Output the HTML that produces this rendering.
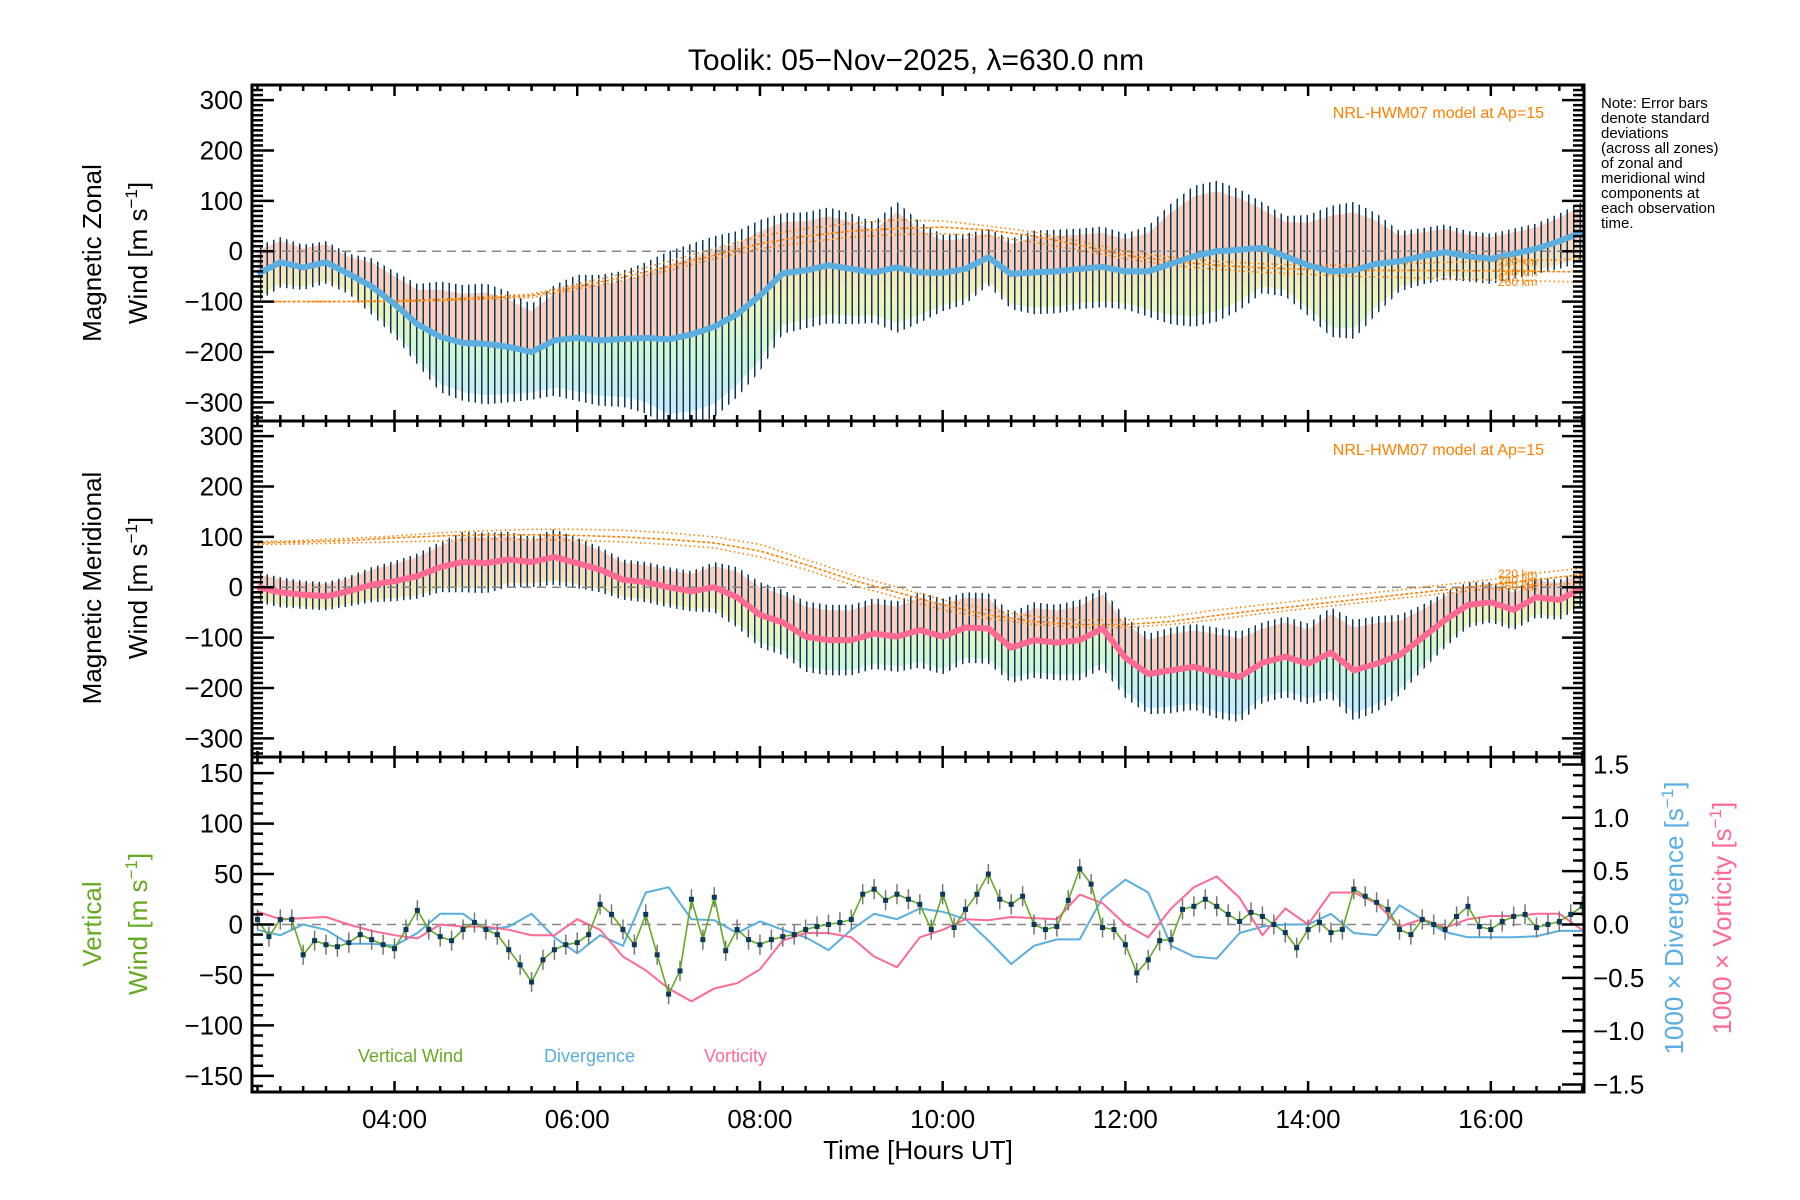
<!DOCTYPE html>
<html><head><meta charset="utf-8"><style>
html,body{margin:0;padding:0;background:#fff}
svg{display:block;font-family:"Liberation Sans",sans-serif}
</style></head><body>
<svg id="chart" width="1800" height="1200" viewBox="0 0 1800 1200" xmlns="http://www.w3.org/2000/svg">
<defs>
<pattern id="bars" patternUnits="userSpaceOnUse" width="6.5" height="10"><rect x="0" y="0" width="1.5" height="10" fill="#0b3a5c"/></pattern>
<linearGradient id="lowgrad" x1="0" y1="0" x2="0" y2="1"><stop offset="0" stop-color="#fad3bd"/><stop offset="0.35" stop-color="#f6f2b8"/><stop offset="0.65" stop-color="#d3f6d3"/><stop offset="1" stop-color="#cbe8fa"/></linearGradient>
<clipPath id="c0"><rect x="252" y="85" width="1332" height="336"/></clipPath>
<clipPath id="c1"><rect x="252" y="421" width="1332" height="336"/></clipPath>
<clipPath id="c2"><rect x="252" y="757" width="1332" height="335"/></clipPath>
</defs>
<text x="916" y="70" font-size="30" text-anchor="middle">Toolik: 05−Nov−2025, λ=630.0 nm</text>
<g font-size="15">
<text x="1601" y="108">Note: Error bars</text><text x="1601" y="123">denote standard</text><text x="1601" y="138">deviations</text><text x="1601" y="153">(across all zones)</text><text x="1601" y="168">of zonal and</text><text x="1601" y="183">meridional wind</text><text x="1601" y="198">components at</text><text x="1601" y="213">each observation</text><text x="1601" y="228">time.</text>
</g>
<g font-size="26" text-anchor="middle">
<text transform="translate(101,253) rotate(-90)">Magnetic Zonal</text>
<text transform="translate(147,253) rotate(-90)">Wind [m s<tspan font-size="17" dy="-10">−1</tspan><tspan dy="10">]</tspan></text>
<text transform="translate(101,588) rotate(-90)">Magnetic Meridional</text>
<text transform="translate(147,588) rotate(-90)">Wind [m s<tspan font-size="17" dy="-10">−1</tspan><tspan dy="10">]</tspan></text>
<text transform="translate(101,924) rotate(-90)" fill="#66aa22">Vertical</text>
<text transform="translate(147,924) rotate(-90)" fill="#66aa22">Wind [m s<tspan font-size="17" dy="-10">−1</tspan><tspan dy="10">]</tspan></text>
<text transform="translate(1683,918) rotate(-90)" fill="#5aaee0">1000 × Divergence [s<tspan font-size="17" dy="-10">−1</tspan><tspan dy="10">]</tspan></text>
<text transform="translate(1731,918) rotate(-90)" fill="#ff6a95">1000 × Vorticity [s<tspan font-size="17" dy="-10">−1</tspan><tspan dy="10">]</tspan></text>
</g>
<text x="918" y="1159" font-size="26" text-anchor="middle">Time [Hours UT]</text>
<g font-size="18">
<text x="358" y="1062" fill="#66aa22">Vertical Wind</text>
<text x="544" y="1062" fill="#5aaee0">Divergence</text>
<text x="704" y="1062" fill="#ff6a95">Vorticity</text>
</g>
<g font-size="16" fill="#ff7f00" text-anchor="end">
<text x="1544" y="118">NRL-HWM07 model at Ap=15</text>
<text x="1544" y="455">NRL-HWM07 model at Ap=15</text>
</g>
<g id="plots"></g>
</svg>
<script>
// ---- data ----
const gridStart = 2.5, gridStep = 0.25;
const zonalMean = [-45,-22,-32,-22,-45,-70,-105,-145,-170,-182,-184,-190,-200,-177,-172,-177,-174,-172,-175,-165,-150,-125,-88,-44,-38,-28,-35,-42,-32,-42,-43,-35,-12,-45,-42,-40,-35,-31,-40,-40,-25,-10,0,3,7,-10,-28,-40,-38,-25,-20,-10,-2,-10,-15,-5,5,20,38];
const zonalSpread = [55,50,45,42,40,56,65,80,110,115,120,110,95,110,125,130,135,150,175,180,180,165,150,120,115,115,110,100,130,100,76,70,56,70,83,83,80,80,75,90,120,140,140,120,90,80,100,130,136,100,60,56,55,50,50,50,50,55,60];
const meridMean = [0,-10,-15,-18,-8,5,12,22,40,50,48,55,50,60,48,35,15,10,0,-8,0,-20,-55,-70,-98,-105,-105,-92,-98,-85,-98,-80,-82,-120,-105,-110,-105,-82,-140,-172,-165,-158,-170,-178,-150,-138,-152,-130,-165,-152,-135,-100,-65,-35,-30,-45,-20,-25,-2];
const meridSpread = [30,30,28,28,30,35,40,45,50,60,60,55,50,55,50,45,40,40,40,40,50,60,65,65,70,70,70,70,70,75,75,70,70,70,75,75,80,80,80,80,85,85,90,90,80,80,80,90,100,95,80,65,55,45,40,40,40,40,35];
const modelStart = 2.5, modelStep = 0.5;
const zonalModel220 = [-100,-100,-100,-98,-95,-90,-85,-65,-45,-20,5,30,45,55,62,60,50,38,20,0,-12,-20,-25,-28,-28,-25,-22,-20,-18,-15];
const zonalModel240 = [-100,-100,-100,-99,-97,-93,-88,-70,-52,-30,-8,15,30,40,45,48,42,30,12,-8,-20,-28,-33,-36,-38,-38,-38,-39,-40,-41];
const zonalModel260 = [-100,-100,-100,-100,-98,-95,-92,-75,-58,-38,-15,5,18,28,33,35,30,18,2,-15,-28,-36,-42,-46,-50,-52,-55,-57,-59,-61];
const meridModel220 = [90,93,97,102,108,112,115,115,113,108,100,85,55,25,0,-25,-45,-58,-65,-65,-58,-45,-35,-25,-15,-5,5,15,28,38];
const meridModel240 = [88,90,93,98,102,104,104,103,100,95,88,72,45,15,-10,-35,-55,-68,-74,-74,-68,-56,-45,-35,-25,-15,-5,5,15,25];
const meridModel260 = [85,86,88,90,92,95,95,93,90,85,78,60,35,5,-20,-45,-62,-74,-80,-80,-74,-64,-52,-42,-32,-22,-12,-3,3,9];
const vertStart = 2.5, vertStep = 0.125;
const verticalWind = [5,-12,5,5,-30,-16,-20,-22,-18,-10,-15,-20,-24,-5,14,-5,-12,-16,-5,2,-5,-10,-25,-40,-57,-35,-25,-20,-18,-10,20,10,-5,-20,10,-30,-69,-46,25,-15,27,-26,-5,-15,-20,-15,-12,-10,-5,-2,0,2,5,30,35,24,30,25,20,
-5,30,-3,15,30,50,25,20,28,0,-5,-2,24,55,40,-3,-5,-20,-48,-35,-16,-15,15,18,25,18,10,3,12,8,0,-8,-23,-5,2,-8,-5,35,28,22,15,-5,-10,5,0,-5,8,18,-2,-5,3,8,10,-3,0,3,10,18];
const verticalErr = 10;
const divergence = [-0.05,-0.1,0,-0.05,-0.18,-0.18,-0.2,-0.08,0.1,0.1,-0.05,-0.02,0.1,-0.12,-0.27,-0.1,-0.2,0.3,0.35,0.05,0.04,-0.08,0.03,-0.05,-0.12,-0.24,-0.05,0.1,0.05,0.15,
0.12,0.05,-0.15,-0.37,-0.2,-0.14,-0.14,0.25,0.42,0.3,-0.2,-0.3,-0.32,-0.08,-0.02,0,0,0.1,-0.08,-0.1,0.18,0.05,-0.07,-0.12,-0.12,-0.12,-0.11,-0.06,-0.06];
const vorticity = [0.12,0.05,0.06,0.07,0,-0.06,-0.1,-0.13,0,-0.02,-0.02,-0.05,-0.1,-0.1,0.05,-0.05,-0.3,-0.43,-0.6,-0.72,-0.6,-0.55,-0.42,-0.15,-0.08,-0.08,-0.12,-0.3,-0.4,-0.12,
-0.05,0.05,0.04,0.07,0.06,0.05,0.28,0.2,0,-0.12,0.15,0.35,0.45,0.25,-0.1,0.15,0,0.3,0.3,0.2,-0.02,0.05,-0.03,0.05,0.08,0.08,0.1,0.1,-0.05];
const xTickHours = [4,6,8,10,12,14,16];
const xTickLabels = ["04:00","06:00","08:00","10:00","12:00","14:00","16:00"];
const windTicks = [-300,-200,-100,0,100,200,300];
const vertTicks = [-150,-100,-50,0,50,100,150];
const rightTicks = [-1.5,-1.0,-0.5,0.0,0.5,1.0,1.5];
const kmLabels = ["220 km","240 km","260 km"];

// ---- scales ----
const NS="http://www.w3.org/2000/svg";
const X0=252,X1=1584,H0=2.44,H1=17.02;
const panels=[{top:85,bot:421,lo:-337,hi:330},{top:421,bot:757,lo:-337,hi:330},{top:757,bot:1092,lo:-166,hi:166}];
const rLo=-1.57,rHi=1.57;
function xs(h){return X0+(h-H0)*(X1-X0)/(H1-H0);}
function ys(v,p){return p.bot-(v-p.lo)/(p.hi-p.lo)*(p.bot-p.top);}
function yr(v){const p=panels[2];return p.bot-(v-rLo)/(rHi-rLo)*(p.bot-p.top);}
const root=document.getElementById('plots');
function mk(tag,attrs,parent){const e=document.createElementNS(NS,tag);for(const k in attrs)e.setAttribute(k,attrs[k]);(parent||root).appendChild(e);return e;}
function ptsStr(arr){return arr.map(p=>p[0].toFixed(1)+','+p[1].toFixed(1)).join(' ');}

function windPanel(pi,mean,spread,lineColor,models,name){
  const p=panels[pi];
  const g=mk('g',{'clip-path':'url(#c'+pi+')'});
  
  
  const up=[],mid=[],lo=[],pu=[],pl=[];
  mean.forEach((v,i)=>{const h=gridStart+i*gridStep;const x=xs(h);
    up.push([x,ys(v+spread[i],p)]);mid.push([x,ys(v,p)]);lo.push([x,ys(v-spread[i],p)]);
    pu.push([x,ys(v+0.85*spread[i],p)]);pl.push([x,ys(v-0.85*spread[i],p)]);});
  const upBand=mk('polygon',{points:ptsStr(pu.concat(mid.slice().reverse())),fill:'#fbcfbc'},g);
  
  
  const loBand=mk('polygon',{points:ptsStr(mid.concat(pl.slice().reverse())),fill:'url(#lowgrad)'},g);
  
  
  const errs=mk('polygon',{points:ptsStr(up.concat(lo.slice().reverse())),fill:'url(#bars)'},g);
  
  
  const z=mk('line',{x1:X0,x2:X1,y1:ys(0,p),y2:ys(0,p),stroke:'#888','stroke-width':1.5,'stroke-dasharray':'9,6'},g);
  
  
  models.forEach((m,k)=>{
    const pts=m.map((v,i)=>[xs(modelStart+i*modelStep),ys(v,p)]);
    const ml=mk('polyline',{points:ptsStr(pts),fill:'none',stroke:'#ff7f00','stroke-width':1.6,'stroke-dasharray':k===1?'3,2':'1.5,3'},g);
    
    
  });
  const ml=mk('polyline',{points:ptsStr(mid),fill:'none',stroke:lineColor,'stroke-width':6,'stroke-linejoin':'round'},g);
  
  
  models.forEach((m,k)=>{
    const t=mk('text',{x:1498,y:ys(m[m.length-2],p)+5,'font-size':12,fill:'#ff7f00'});
    t.textContent=kmLabels[k];
    
    
  });
}
windPanel(0,zonalMean,zonalSpread,'#5aaee0',[zonalModel220,zonalModel240,zonalModel260],'zonal');
windPanel(1,meridMean,meridSpread,'#ff6a95',[meridModel220,meridModel240,meridModel260],'meridional');

(function(){
  const p=panels[2];
  const g=mk('g',{'clip-path':'url(#c2)'});
  
  
  const z=mk('line',{x1:X0,x2:X1,y1:ys(0,p),y2:ys(0,p),stroke:'#888','stroke-width':1.5,'stroke-dasharray':'9,6'},g);
  
  
  const dpts=divergence.map((v,i)=>[xs(gridStart+i*gridStep),yr(v)]);
  const dl=mk('polyline',{points:ptsStr(dpts),fill:'none',stroke:'#5aaee0','stroke-width':2},g);
  
  
  const vpts=vorticity.map((v,i)=>[xs(gridStart+i*gridStep),yr(v)]);
  const vl=mk('polyline',{points:ptsStr(vpts),fill:'none',stroke:'#ff6a95','stroke-width':2},g);
  
  
  const wpts=verticalWind.map((v,i)=>[xs(vertStart+i*vertStep),ys(v,p)]);
  verticalWind.forEach((v,i)=>{
    const x=xs(vertStart+i*vertStep);
    const e=mk('line',{x1:x,x2:x,y1:ys(v+verticalErr,p),y2:ys(v-verticalErr,p),stroke:'#777','stroke-width':1.5},g);
    
    
  });
  const wl=mk('polyline',{points:ptsStr(wpts),fill:'none',stroke:'#66aa22','stroke-width':1.6},g);
  
  
  wpts.forEach(q=>{
    const d=mk('rect',{x:q[0]-2.5,y:q[1]-2.5,width:5,height:5,fill:'#0b3a5c'},g);
    
    
  });
})();

panels.forEach((p,pi)=>{
  const fr=mk('rect',{x:X0,y:p.top,width:X1-X0,height:p.bot-p.top,fill:'none',stroke:'#000','stroke-width':3});
  
  
  const tg=mk('g',{stroke:'#000','stroke-width':2.5});
  
  
  for(let h=2.5;h<=17.0;h+=0.25){
    const x=xs(h);const major=Math.abs(h/2-Math.round(h/2))<1e-6;const L=major?11:6;
    mk('line',{x1:x,x2:x,y1:p.top,y2:p.top+L},tg);mk('line',{x1:x,x2:x,y1:p.bot,y2:p.bot-L},tg);
  }
  if(pi<2){
    for(let v=-330;v<=330;v+=10){const y=ys(v,p);const major=v%100===0;const L=major?22:11;
      mk('line',{x1:X0,x2:X0+L,y1:y,y2:y},tg);mk('line',{x1:X1,x2:X1-L,y1:y,y2:y},tg);}
    windTicks.forEach(v=>{const t=mk('text',{x:243,y:ys(v,p)+9,'font-size':26,'text-anchor':'end'});t.textContent=(v<0?'−':'')+Math.abs(v);
      
      });
  } else {
    for(let v=-160;v<=160;v+=10){const y=ys(v,p);const L=v%50===0?22:11;mk('line',{x1:X0,x2:X0+L,y1:y,y2:y},tg);}
    for(let k=-15;k<=15;k++){const y=yr(k/10);const L=k%5===0?22:11;mk('line',{x1:X1,x2:X1-L,y1:y,y2:y},tg);}
    vertTicks.forEach(v=>{const t=mk('text',{x:243,y:ys(v,p)+9,'font-size':26,'text-anchor':'end'});t.textContent=(v<0?'−':'')+Math.abs(v);
      
      });
    rightTicks.forEach(v=>{const t=mk('text',{x:1593,y:yr(v)+9,'font-size':26});t.textContent=(v<0?'−':'')+Math.abs(v).toFixed(1);
      
      });
  }
});
xTickHours.forEach((h,i)=>{const t=mk('text',{x:xs(h),y:1128,'font-size':26,'text-anchor':'middle'});t.textContent=xTickLabels[i];
  
  });
</script>
</body></html>
